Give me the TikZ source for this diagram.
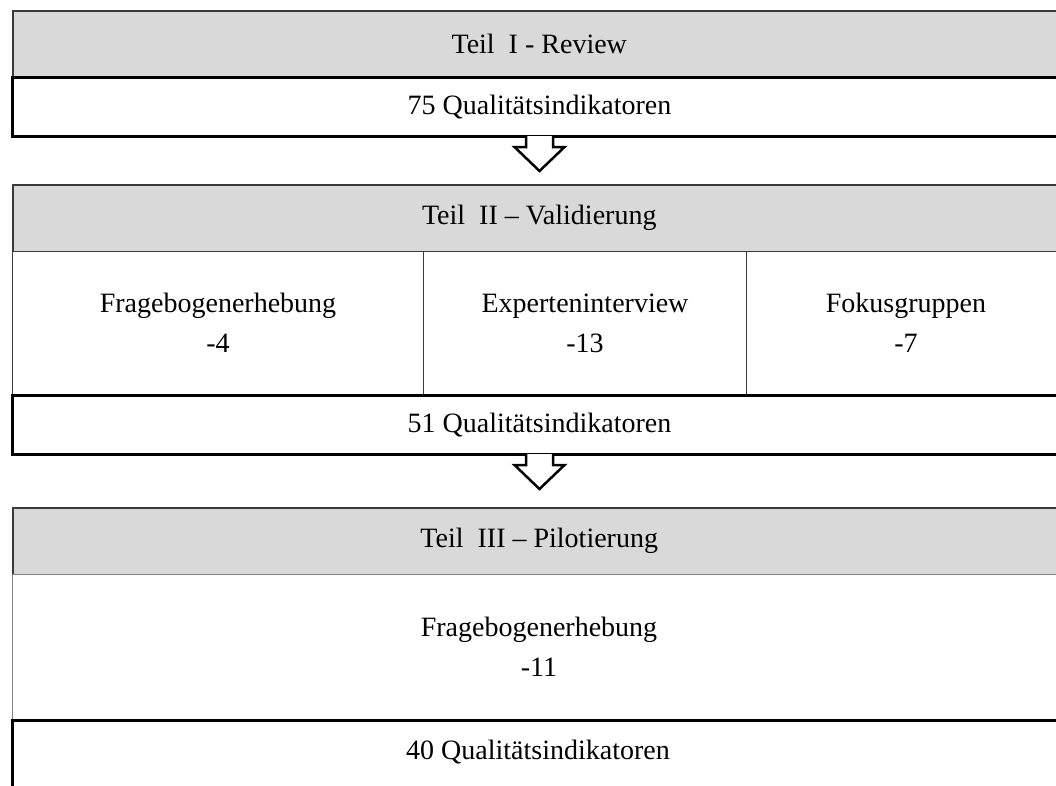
\documentclass[tikz,border=0pt]{standalone}
\usepackage{fontspec}
\setmainfont{Liberation Serif}
\usetikzlibrary{calc}

\definecolor{kopfgrau}{HTML}{D9D9D9}
\definecolor{rahmen}{HTML}{3A3A3A}
\definecolor{hellrahmen}{HTML}{808080}

\tikzset{
    kopf/.style={anchor=north west, draw=rahmen, line width=1.5pt, fill=kopfgrau,
        minimum width=1053pt, minimum height=67pt, inner sep=0pt},
    ergebnis/.style={anchor=north west, draw=black, line width=3pt, fill=white,
        minimum width=1054pt, minimum height=59pt, inner sep=0pt},
    zelle/.style={anchor=north west, draw=rahmen, line width=1pt, fill=white,
        minimum height=143pt, align=center, inner sep=0pt},
    pfeil/.style={draw=black, line width=2.5pt, fill=white, line join=miter}
}

\begin{document}
\begin{tikzpicture}[x=1pt, y=-1pt, font=\fontsize{28}{40}\selectfont]

        \useasboundingbox (0,0) rectangle (1056,785);
        \clip (0,0) rectangle (1056,785);

        % Teil I
        \node[kopf] (teil1) at (12,10) {Teil~ I - Review};
        \node[ergebnis] (qi1) at (11,76) {75 Qualitätsindikatoren};

        \draw[pfeil] ($(qi1.south)+(-13.5,-2)$) -- ++(0,11) -- ++(-11.5,0) -- ++(25,24)
            -- ++(25,-24) -- ++(-11.5,0) -- ++(0,-11);

        % Teil II
        \node[kopf] (teil2) at (12,184) {Teil~ II -- Validierung};
        \node[zelle, minimum width=411pt] (frage2) at (12,251) {Fragebogenerhebung\\-4};
        \node[zelle, minimum width=323pt] (experten) at (423,251) {Experteninterview\\-13};
        \node[zelle, minimum width=319pt] (fokus) at (746,251) {Fokusgruppen\\-7};
        \node[ergebnis] (qi2) at (11,394) {51 Qualitätsindikatoren};

        \draw[pfeil] ($(qi2.south)+(-13.5,-2)$) -- ++(0,11) -- ++(-11.5,0) -- ++(25,24)
            -- ++(25,-24) -- ++(-11.5,0) -- ++(0,-11);

        % Teil III
        \node[kopf] (teil3) at (12,507) {Teil~ III -- Pilotierung};
        \node[zelle, draw=hellrahmen, minimum width=1053pt, minimum height=145pt] (frage3) at (12,574) {Fragebogenerhebung\\-11};
        \node[ergebnis, minimum height=80pt] (qi3) at (11,719) {};
        \node (qi3text) at (538,752) {40 Qualitätsindikatoren};

    \end{tikzpicture}
\end{document}
